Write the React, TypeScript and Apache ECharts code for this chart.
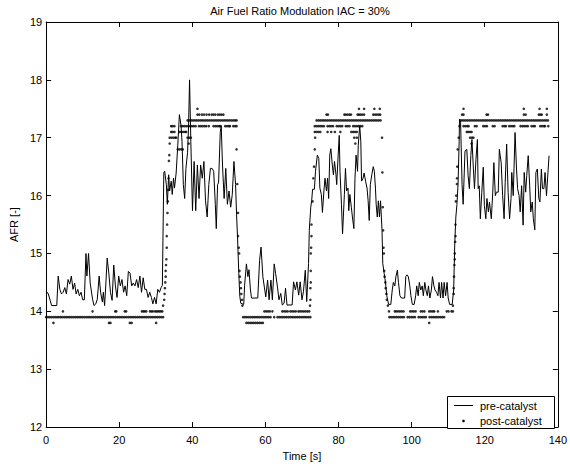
import React, { useEffect, useRef } from "react";
import * as echarts from "echarts";

const titleText = "Air Fuel Ratio Modulation IAC = 30%";
const xName = "Time [s]";
const yName = "AFR [-]";
const seriesNames = ["pre-catalyst", "post-catalyst"];
const xTicks = [0, 20, 40, 60, 80, 100, 120, 140];
const yTicks = [12, 13, 14, 15, 16, 17, 18, 19];

// pre-catalyst lambda sensor, [time s, AFR]
const preCatalyst: [number, number][] = [
  [0, 14.35], [0.6, 14.3], [1.1, 14.19], [1.5, 14.1], [2.9, 14.1], [3.3, 14.61], [3.75, 14.38], [4.2, 14.3],
  [4.65, 14.33], [5.1, 14.41], [5.55, 14.3], [6.0, 14.55], [6.45, 14.47], [6.9, 14.61], [7.35, 14.38], [7.8, 14.49],
  [8.2, 14.3], [8.65, 14.38], [9.1, 14.27], [9.55, 14.33], [10.0, 14.2], [10.45, 14.2], [10.9, 15.0], [11.15, 14.61],
  [11.6, 15.0], [12.05, 14.49], [12.7, 14.21], [13.1, 14.1], [13.6, 14.13], [14.0, 14.21], [14.5, 14.61], [14.9, 14.33],
  [15.4, 14.16], [15.65, 14.33], [16.0, 14.1], [16.35, 14.49], [16.7, 14.92], [17.15, 14.66], [17.6, 14.33], [18.05, 14.19],
  [18.5, 14.8], [18.95, 14.44], [19.4, 14.24], [19.85, 14.61], [20.3, 14.44], [20.75, 14.55], [21.2, 14.33], [21.6, 14.44],
  [22.05, 14.27], [22.5, 14.69], [22.95, 14.66], [23.4, 14.44], [23.85, 14.49], [24.3, 14.44], [24.75, 14.55], [25.2, 14.41],
  [25.65, 14.61], [26.1, 14.33], [26.55, 14.58], [27.0, 14.38], [27.45, 14.38], [27.9, 14.24], [28.35, 14.33], [28.8, 14.24],
  [29.2, 14.13], [29.65, 14.24], [30.1, 14.13], [30.55, 14.38], [31.0, 14.33], [31.45, 14.41], [31.8, 14.45], [32.2, 16.4],
  [32.44, 16.42], [32.89, 16.19], [33.16, 15.85], [33.52, 16.36], [33.78, 16.08], [34.23, 16.25], [34.5, 16.02], [34.86, 16.3],
  [35.12, 16.13], [35.57, 16.39], [36.02, 16.87], [36.46, 17.4], [36.91, 17.21], [37.18, 16.93], [37.54, 16.19], [37.9, 15.95],
  [38.25, 16.47], [38.7, 16.75], [38.97, 17.21], [39.24, 18.0], [39.59, 16.93], [40.04, 15.74], [40.49, 16.59], [40.93, 15.74],
  [41.38, 16.53], [41.83, 15.95], [42.27, 16.53], [42.72, 16.3], [43.17, 16.59], [43.61, 15.91], [44.06, 15.63], [44.51, 16.19],
  [44.95, 16.47], [45.4, 16.47], [45.84, 16.42], [46.29, 15.85], [46.55, 15.43], [46.91, 16.19], [47.18, 16.22], [47.63, 17.09],
  [47.9, 17.21], [48.25, 16.53], [48.7, 15.95], [49.15, 16.47], [49.59, 15.85], [50.04, 16.08], [50.49, 15.8], [50.93, 16.02],
  [51.38, 16.59], [51.83, 16.19], [52.1, 15.68], [52.36, 15.29], [52.72, 14.65], [52.99, 14.26], [53.26, 14.14], [54.06, 14.12],
  [54.3, 14.45], [54.8, 14.82], [55.2, 14.6], [55.5, 14.72], [55.9, 14.37], [56.2, 14.23], [57.9, 14.23], [58.4, 14.88],
  [58.8, 15.11], [59.3, 14.6], [59.7, 14.42], [60.1, 14.25], [60.6, 14.54], [61.0, 14.2], [61.5, 14.54], [61.9, 14.2],
  [62.4, 14.82], [62.8, 14.65], [63.3, 14.42], [63.7, 14.2], [64.2, 14.31], [64.6, 14.11], [65.1, 14.14], [65.5, 14.4],
  [65.9, 14.11], [67.3, 14.11], [67.7, 14.51], [68.2, 14.37], [68.6, 14.51], [69.1, 14.28], [69.5, 14.51], [70.0, 14.2],
  [70.4, 14.34], [70.9, 14.71], [71.3, 14.17], [71.8, 14.83], [72.0, 15.4], [72.4, 15.8], [72.65, 15.91], [72.9, 16.11],
  [73.4, 16.11], [73.7, 16.42], [74.2, 16.7], [74.6, 16.64], [74.9, 16.13], [75.3, 16.02], [75.6, 15.71], [76.0, 16.08],
  [76.3, 16.3], [76.7, 16.08], [77.0, 16.3], [77.3, 15.95], [77.6, 16.7], [77.9, 16.81], [78.3, 16.53], [78.6, 16.36],
  [78.9, 16.59], [79.3, 16.36], [79.5, 16.19], [79.9, 16.7], [80.2, 17.04], [80.4, 16.42], [80.8, 15.85], [81.1, 15.34],
  [81.6, 16.02], [81.9, 16.47], [82.2, 16.08], [82.6, 16.13], [82.8, 15.74], [83.1, 16.02], [83.5, 15.8], [83.8, 15.63],
  [84.2, 15.43], [84.5, 16.3], [84.8, 16.7], [85.2, 16.42], [85.4, 16.87], [85.8, 17.21], [86.1, 16.93], [86.3, 16.25],
  [86.7, 16.3], [87.0, 16.39], [87.4, 16.25], [87.8, 16.13], [88.1, 15.91], [88.4, 15.57], [88.7, 16.19], [89.1, 16.36],
  [89.5, 16.5], [89.8, 16.42], [90.1, 16.13], [90.3, 15.85], [90.6, 15.63], [90.9, 15.91], [91.2, 15.63], [91.5, 15.91],
  [91.9, 15.4], [92.1, 14.83], [92.5, 14.65], [92.85, 14.5], [93.2, 14.27], [93.7, 14.12], [94.3, 14.12], [94.7, 14.37],
  [95.0, 14.5], [95.4, 14.44], [95.7, 14.6], [96.1, 14.71], [96.4, 14.5], [96.8, 14.27], [97.2, 14.23], [98.1, 14.23],
  [98.4, 14.6], [98.75, 14.63], [99.1, 14.6], [99.5, 14.44], [99.8, 14.27], [100.2, 14.12], [100.7, 14.12], [101.1, 14.27],
  [101.4, 14.44], [101.8, 14.27], [102.1, 14.5], [102.5, 14.37], [102.9, 14.44], [103.2, 14.27], [103.6, 14.5], [103.9, 14.37],
  [104.3, 14.27], [104.6, 14.44], [105.0, 14.23], [105.4, 14.37], [105.7, 14.6], [106.1, 14.44], [106.4, 14.37], [106.8, 14.33],
  [107.2, 14.27], [107.5, 14.5], [107.9, 14.23], [108.2, 14.5], [108.6, 14.23], [108.9, 14.5], [109.3, 14.27], [109.7, 14.5],
  [110.0, 14.23], [110.4, 14.12], [111.1, 14.12], [111.5, 14.37], [111.8, 15.17], [112.1, 15.63], [112.4, 15.85], [112.7, 16.19],
  [113.0, 16.93], [113.1, 17.32], [113.4, 17.27], [113.8, 16.19], [114.1, 15.85], [114.6, 16.77], [115.1, 16.8], [115.45, 16.35],
  [115.8, 16.12], [116.2, 16.69], [116.5, 16.97], [116.9, 16.46], [117.2, 16.12], [117.6, 16.63], [118.0, 16.97], [118.2, 16.12],
  [118.5, 16.17], [118.8, 15.6], [119.2, 16.06], [119.6, 16.49], [119.9, 15.83], [120.3, 15.6], [120.6, 15.95], [121.0, 15.72],
  [121.3, 15.89], [121.8, 15.6], [122.2, 16.06], [122.5, 16.57], [122.9, 16.0], [123.2, 16.06], [123.7, 16.06], [124.0, 16.8],
  [124.5, 16.57], [124.9, 16.0], [125.3, 15.6], [125.6, 16.23], [126.0, 16.89], [126.4, 16.06], [126.8, 15.6], [127.2, 15.95],
  [127.4, 16.4], [127.8, 16.0], [128.3, 17.09], [128.7, 16.46], [129.0, 16.12], [129.4, 16.0], [129.7, 15.72], [130.1, 16.17],
  [130.5, 15.49], [130.8, 16.4], [131.2, 16.06], [131.5, 16.35], [131.9, 16.69], [132.3, 16.17], [132.6, 15.72], [133.0, 15.89],
  [133.3, 15.6], [133.7, 15.41], [134.0, 16.4], [134.4, 16.46], [134.8, 15.95], [135.1, 15.89], [135.5, 16.46], [135.8, 16.12],
  [136.2, 16.12], [136.5, 16.4], [136.9, 16.0], [137.3, 16.4], [137.6, 16.69],
];

// post-catalyst sensor (quantised to 0.1), [time s, AFR]
const postLowA: [number, number][] = [
  [0, 13.9], [0.5, 13.9], [1, 13.9], [1.5, 13.9], [2, 13.9], [2.5, 13.9], [3, 13.9], [3.5, 13.9], [4, 13.9], [4.5, 13.9],
  [5, 13.9], [5.5, 13.9], [6, 13.9], [6.5, 13.9], [7, 13.9], [7.5, 13.9], [8, 13.9], [8.5, 13.9], [9, 13.9], [9.5, 13.9],
  [10, 13.9], [10.5, 13.9], [11, 13.9], [11.5, 13.9], [12, 13.9], [12.5, 13.9], [13, 13.9], [13.5, 13.9], [14, 13.9], [14.5, 13.9],
  [15, 13.9], [15.5, 13.9], [16, 13.9], [16.5, 13.9], [17, 13.9], [17.5, 13.9], [18, 13.9], [18.5, 13.9], [19, 13.9], [19.5, 13.9],
  [20, 13.9], [20.5, 13.9], [21, 13.9], [21.5, 13.9], [22, 13.9], [22.5, 13.9], [23, 13.9], [23.5, 13.9], [24, 13.9], [24.5, 13.9],
  [25, 13.9], [25.5, 13.9], [26, 13.9], [26.5, 13.9], [27, 13.9], [27.5, 13.9], [28, 13.9], [28.5, 13.9], [29, 13.9], [29.5, 13.9],
  [30, 13.9], [30.5, 13.9], [31, 13.9], [31.5, 13.9], [32, 13.9],
  [4.6, 14.0], [12.7, 14.0], [18.9, 14.0], [19.2, 14.0], [21.5, 14.0], [21.9, 14.0], [26.2, 14.0], [26.6, 14.0], [27.0, 14.0],
  [27.4, 14.0], [28.4, 14.0], [28.8, 14.0], [29.2, 14.0], [29.8, 14.0], [30.2, 14.0], [30.6, 14.0], [31.0, 14.0], [31.4, 14.0], [31.8, 14.0],
  [2.0, 13.8], [17.2, 13.8], [17.6, 13.8], [22.9, 13.8], [23.4, 13.8], [30.1, 13.8],
];
const postRise1: [number, number][] = [
  [32.0, 14.1], [32.3, 14.2], [32.4, 14.3], [32.5, 14.4], [32.6, 14.5], [32.7, 14.6], [32.7, 14.7], [32.8, 14.8], [32.9, 14.9],
  [33.0, 15.1], [33.0, 15.3], [33.1, 15.5], [33.2, 15.7], [33.3, 15.9], [33.4, 16.1], [33.5, 16.3], [33.6, 16.6], [33.7, 16.7], [33.8, 16.9],
];
const postHigh1: [number, number][] = [
  [33.8, 17.0], [34.3, 17.0], [34.8, 17.0], [35.3, 17.0], [35.6, 17.0], [38.7, 17.0], [39.2, 17.0], [39.6, 17.0], [39.0, 16.9],
  [36.0, 16.8], [36.5, 16.8], [37.0, 16.8], [37.4, 16.8], [52.1, 16.8],
  [34.2, 17.1], [34.6, 17.1], [35.1, 17.1], [36.5, 17.1], [37.0, 17.1], [37.5, 17.1], [38.0, 17.1], [38.3, 17.1],
  [34.2, 17.2], [34.6, 17.2], [35.1, 17.2], [36.9, 17.2], [37.4, 17.2], [37.9, 17.2], [38.4, 17.2], [38.9, 17.2], [39.4, 17.2],
  [39.9, 17.2], [40.4, 17.2], [40.9, 17.2], [41.8, 17.2], [42.3, 17.2], [42.8, 17.2], [43.3, 17.2], [43.8, 17.2], [44.5, 17.2],
  [45.8, 17.2], [46.3, 17.2], [46.8, 17.2], [47.3, 17.2], [47.6, 17.2], [49.0, 17.2], [49.5, 17.2], [50.0, 17.2], [50.3, 17.2],
  [51.2, 17.2], [51.7, 17.2], [52.1, 17.2],
  [38.7, 17.3], [39.2, 17.3], [39.7, 17.3], [40.2, 17.3], [40.7, 17.3], [41.2, 17.3], [41.7, 17.3], [42.2, 17.3], [42.7, 17.3],
  [43.2, 17.3], [43.7, 17.3], [44.2, 17.3], [44.7, 17.3], [45.2, 17.3], [45.7, 17.3], [46.2, 17.3], [46.7, 17.3], [47.2, 17.3],
  [47.7, 17.3], [48.2, 17.3], [48.7, 17.3], [49.2, 17.3], [49.7, 17.3], [50.2, 17.3], [50.7, 17.3], [51.2, 17.3], [51.7, 17.3], [52.1, 17.3],
  [41.4, 17.4], [41.9, 17.4], [42.6, 17.4], [43.2, 17.4], [43.9, 17.4], [44.6, 17.4], [45.3, 17.4], [45.8, 17.4], [46.3, 17.4],
  [47.0, 17.4], [47.5, 17.4], [48.0, 17.4], [48.5, 17.4], [41.4, 17.5],
];
const postFall1: [number, number][] = [
  [52.3, 16.2], [52.5, 15.7], [52.5, 15.3], [52.7, 15.1], [52.8, 15.0], [52.9, 14.7], [53.0, 14.6], [53.2, 14.5], [53.3, 14.4],
  [53.4, 14.3], [53.6, 14.2], [53.7, 14.1],
];
const postLowB: [number, number][] = [
  [53.9, 13.9], [54.4, 13.9], [54.9, 13.9], [55.4, 13.9], [55.9, 13.9], [56.4, 13.9], [56.9, 13.9], [57.4, 13.9], [57.9, 13.9],
  [58.4, 13.9], [58.9, 13.9], [59.4, 13.9], [59.9, 13.9], [60.4, 13.9], [60.9, 13.9], [61.4, 13.9], [62.4, 13.9], [63.3, 13.9],
  [63.8, 13.9], [64.3, 13.9], [64.8, 13.9], [65.3, 13.9], [65.8, 13.9], [66.3, 13.9], [66.8, 13.9], [67.3, 13.9], [67.8, 13.9],
  [68.3, 13.9], [68.8, 13.9], [69.3, 13.9], [69.8, 13.9], [70.3, 13.9], [70.8, 13.9], [71.3, 13.9], [71.8, 13.9], [72.3, 13.9],
  [54.8, 13.8], [55.3, 13.8], [55.8, 13.8], [56.3, 13.8], [56.8, 13.8], [57.3, 13.8], [57.8, 13.8], [58.3, 13.8], [58.8, 13.8], [59.3, 13.8],
  [59.7, 14.0], [60.2, 14.0], [60.7, 14.0], [61.2, 14.0], [61.9, 14.0], [64.6, 14.0], [65.1, 14.0], [65.6, 14.0], [66.1, 14.0],
  [66.8, 14.0], [67.3, 14.0], [67.8, 14.0], [68.3, 14.0], [69.0, 14.0], [69.5, 14.0], [70.0, 14.0], [70.5, 14.0], [71.0, 14.0],
  [71.5, 14.0], [72.0, 14.0],
];
const postRise2: [number, number][] = [
  [72.2, 14.1], [72.3, 14.2], [72.3, 14.4], [72.4, 14.5], [72.4, 14.7], [72.4, 15.0], [72.5, 15.1], [72.6, 15.3], [72.6, 15.5],
  [72.9, 15.9], [73.1, 16.3], [73.3, 16.5], [73.5, 16.8],
];
const postHigh2: [number, number][] = [
  [73.6, 17.0], [84.3, 17.0], [85.0, 17.0], [84.6, 16.9],
  [73.5, 17.1], [74.0, 17.1], [74.5, 17.1], [75.0, 17.1], [77.0, 17.1], [78.0, 17.1], [79.0, 17.1], [80.5, 17.1], [83.5, 17.1],
  [84.0, 17.1], [84.5, 17.1], [85.0, 17.1],
  [73.5, 17.2], [74.0, 17.2], [74.5, 17.2], [75.0, 17.2], [75.5, 17.2], [76.0, 17.2], [77.0, 17.2], [77.5, 17.2], [78.0, 17.2],
  [78.5, 17.2], [79.5, 17.2], [80.0, 17.2], [80.5, 17.2], [81.0, 17.2], [82.0, 17.2], [82.5, 17.2], [83.0, 17.2], [84.0, 17.2],
  [84.5, 17.2], [85.0, 17.2], [85.5, 17.2], [86.0, 17.2], [86.5, 17.2],
  [74.0, 17.3], [74.5, 17.3], [75.0, 17.3], [75.5, 17.3], [76.0, 17.3], [76.5, 17.3], [77.0, 17.3], [77.5, 17.3], [78.0, 17.3],
  [78.5, 17.3], [79.0, 17.3], [79.5, 17.3], [80.0, 17.3], [80.5, 17.3], [81.0, 17.3], [81.5, 17.3], [82.0, 17.3], [82.5, 17.3],
  [83.0, 17.3], [83.5, 17.3], [84.0, 17.3], [84.5, 17.3], [85.0, 17.3], [85.5, 17.3], [86.0, 17.3], [86.5, 17.3], [87.0, 17.3],
  [87.5, 17.3], [88.0, 17.3], [88.5, 17.3], [89.0, 17.3], [89.5, 17.3], [90.0, 17.3], [90.5, 17.3], [91.0, 17.3], [91.5, 17.3],
  [76.7, 17.4], [77.1, 17.4], [81.6, 17.4], [82.0, 17.4], [82.5, 17.4], [83.0, 17.4], [83.4, 17.4], [85.2, 17.4], [85.6, 17.4],
  [86.0, 17.4], [86.5, 17.4], [87.0, 17.4], [89.5, 17.4], [90.0, 17.4], [90.5, 17.4], [91.0, 17.4], [91.4, 17.4],
  [85.6, 17.5], [87.0, 17.5], [89.8, 17.5], [91.3, 17.5],
];
const postFall2: [number, number][] = [
  [91.9, 17.0], [92.0, 16.4], [92.1, 15.8], [92.2, 15.4], [92.3, 15.1], [92.4, 15.0], [92.5, 14.7], [92.6, 14.6], [92.8, 14.5],
  [92.9, 14.4], [93.1, 14.3], [93.2, 14.2], [93.5, 14.1],
];
const postLowC: [number, number][] = [
  [93.8, 14.0], [95.4, 14.0], [95.8, 14.0], [96.3, 14.0], [96.8, 14.0], [97.3, 14.0], [97.8, 14.0], [99.6, 14.0], [100.1, 14.0],
  [100.6, 14.0], [101.1, 14.0], [102.5, 14.0], [103.0, 14.0], [103.5, 14.0], [104.8, 14.0], [105.3, 14.0], [105.8, 14.0],
  [106.2, 14.0], [107.2, 14.0], [109.6, 14.0], [110.1, 14.0], [110.9, 14.0], [111.3, 14.0],
  [93.9, 13.9], [94.4, 13.9], [94.9, 13.9], [95.4, 13.9], [95.9, 13.9], [96.4, 13.9], [96.9, 13.9], [97.4, 13.9], [97.9, 13.9],
  [98.9, 13.9], [99.4, 13.9], [99.9, 13.9], [100.4, 13.9], [100.9, 13.9], [101.9, 13.9], [102.4, 13.9], [102.9, 13.9], [103.4, 13.9],
  [103.9, 13.9], [104.9, 13.9], [105.4, 13.9], [105.9, 13.9], [106.4, 13.9], [106.9, 13.9], [107.4, 13.9], [107.9, 13.9],
  [108.4, 13.9], [108.9, 13.9],
  [104.8, 13.8],
];
const postRise3: [number, number][] = [
  [111.3, 14.1], [111.5, 14.3], [111.5, 14.4], [111.6, 14.6], [111.7, 14.8], [111.8, 14.9], [111.8, 15.0], [111.9, 15.2],
  [112.0, 15.3], [112.0, 15.5], [112.1, 15.9], [112.2, 16.0], [112.4, 16.2], [112.4, 16.3], [112.5, 16.5], [112.6, 16.8],
  [112.9, 17.0], [113.1, 17.2],
];
const postHigh3: [number, number][] = [
  [114.2, 17.5], [130.7, 17.5], [135.0, 17.5], [137.0, 17.5],
  [113.8, 17.4], [114.2, 17.4], [120.5, 17.4], [120.9, 17.4], [130.7, 17.4], [131.2, 17.4], [134.8, 17.4], [135.2, 17.4],
  [135.6, 17.4], [137.0, 17.4],
  [113.3, 17.3], [113.8, 17.3], [114.3, 17.3], [114.8, 17.3], [115.3, 17.3], [115.8, 17.3], [116.3, 17.3], [116.8, 17.3],
  [117.3, 17.3], [117.8, 17.3], [118.3, 17.3], [118.8, 17.3], [119.3, 17.3], [119.8, 17.3], [120.3, 17.3], [120.8, 17.3],
  [121.3, 17.3], [121.8, 17.3], [122.3, 17.3], [122.8, 17.3], [123.3, 17.3], [123.8, 17.3], [124.3, 17.3], [124.8, 17.3],
  [125.3, 17.3], [125.8, 17.3], [126.3, 17.3], [126.8, 17.3], [127.3, 17.3], [127.8, 17.3], [128.3, 17.3], [128.8, 17.3],
  [129.3, 17.3], [129.8, 17.3], [130.3, 17.3], [130.8, 17.3], [131.3, 17.3], [131.8, 17.3], [132.3, 17.3], [132.8, 17.3],
  [133.3, 17.3], [133.8, 17.3], [134.3, 17.3], [134.8, 17.3], [135.3, 17.3], [135.8, 17.3], [136.3, 17.3], [136.8, 17.3], [137.3, 17.3],
  [114.2, 17.2], [114.7, 17.2], [115.2, 17.2], [115.6, 17.2], [117.3, 17.2], [117.8, 17.2], [119.6, 17.2], [120.1, 17.2],
  [120.6, 17.2], [122.2, 17.2], [122.7, 17.2], [124.9, 17.2], [125.4, 17.2], [125.8, 17.2], [126.7, 17.2], [127.2, 17.2],
  [127.7, 17.2], [128.1, 17.2], [129.8, 17.2], [130.3, 17.2], [130.8, 17.2], [131.3, 17.2], [131.8, 17.2], [132.8, 17.2],
  [133.3, 17.2], [133.7, 17.2], [135.2, 17.2], [135.7, 17.2], [136.2, 17.2], [136.5, 17.2], [137.4, 17.2],
  [115.1, 17.1], [115.5, 17.1], [116.0, 17.1], [116.4, 17.1],
  [116.0, 17.0], [116.5, 17.0], [116.9, 17.0], [116.4, 16.9],
];

const postCatalyst: [number, number][] = [
  ...postLowA, ...postRise1, ...postHigh1, ...postFall1, ...postLowB, ...postRise2, ...postHigh2,
  ...postFall2, ...postLowC, ...postRise3, ...postHigh3,
];

const FONT = "'Liberation Sans', Arial, Helvetica, sans-serif";

export default function App() {
  const ref = useRef<HTMLDivElement>(null);
  useEffect(() => {
    if (!ref.current) return;
    const chart = echarts.init(ref.current, undefined, { renderer: "svg" });
    const gridL = 40, gridR = 10, gridT = 22, gridB = 35;
    const tick = { show: true, inside: true, length: 5, lineStyle: { color: "#000", width: 1 } };
    const line = { show: true, onZero: false, lineStyle: { color: "#000", width: 1 } };
    const label = { color: "#000", fontSize: 11, fontFamily: FONT };
    chart.setOption({
      animation: false,
      backgroundColor: "#fff",
      grid: { left: gridL, right: gridR, top: gridT, bottom: gridB, containLabel: false },
      xAxis: [
        {
          type: "value", min: xTicks[0], max: xTicks[xTicks.length - 1], interval: 20,
          axisLine: line, axisTick: tick, splitLine: { show: false },
          axisLabel: { ...label, margin: 7 },
          name: xName, nameLocation: "middle", nameGap: 20,
          nameTextStyle: { ...label },
        },
        {
          type: "value", position: "top", min: xTicks[0], max: xTicks[xTicks.length - 1], interval: 20,
          axisLine: line, axisTick: tick, splitLine: { show: false }, axisLabel: { show: false },
        },
      ],
      yAxis: [
        {
          type: "value", min: yTicks[0], max: yTicks[yTicks.length - 1], interval: 1,
          axisLine: line, axisTick: tick, splitLine: { show: false },
          axisLabel: { ...label, margin: 4 },
          name: yName, nameLocation: "middle", nameGap: 23, nameRotate: 90,
          nameTextStyle: { ...label },
        },
        {
          type: "value", position: "right", min: yTicks[0], max: yTicks[yTicks.length - 1], interval: 1,
          axisLine: line, axisTick: tick, splitLine: { show: false }, axisLabel: { show: false },
        },
      ],
      series: [
        {
          name: seriesNames[0], type: "line", data: preCatalyst, showSymbol: false, symbol: "none",
          lineStyle: { color: "#000", width: 1 }, xAxisIndex: 0, yAxisIndex: 0, z: 2,
        },
        {
          name: seriesNames[1], type: "scatter", data: postCatalyst, symbol: "circle", symbolSize: 2.6,
          itemStyle: { color: "#000" }, xAxisIndex: 0, yAxisIndex: 0, z: 3,
        },
      ],
      graphic: [
        {
          type: "text", x: 300, y: 11,
          style: { text: titleText, fill: "#000", fontSize: 11, fontFamily: FONT, align: "center", verticalAlign: "middle" },
        },
        {
          type: "rect", shape: { x: 447.5, y: 396.5, width: 107, height: 32 },
          style: { fill: "#fff", stroke: "#000", lineWidth: 1 }, z: 10,
        },
        {
          type: "line", shape: { x1: 454, y1: 405.5, x2: 473, y2: 405.5 },
          style: { stroke: "#000", lineWidth: 1 }, z: 11,
        },
        {
          type: "circle", shape: { cx: 463.5, cy: 421, r: 1.3 },
          style: { fill: "#000" }, z: 11,
        },
        {
          type: "text", x: 480, y: 405.5, z: 11,
          style: { text: seriesNames[0], fill: "#000", fontSize: 11, fontFamily: FONT, align: "left", verticalAlign: "middle" },
        },
        {
          type: "text", x: 480, y: 421, z: 11,
          style: { text: seriesNames[1], fill: "#000", fontSize: 11, fontFamily: FONT, align: "left", verticalAlign: "middle" },
        },
      ],
    });
    return () => chart.dispose();
  }, []);
  return <div ref={ref} style={{ position: "absolute", left: 0, top: 0, width: 570, height: 466 }} />;
}
